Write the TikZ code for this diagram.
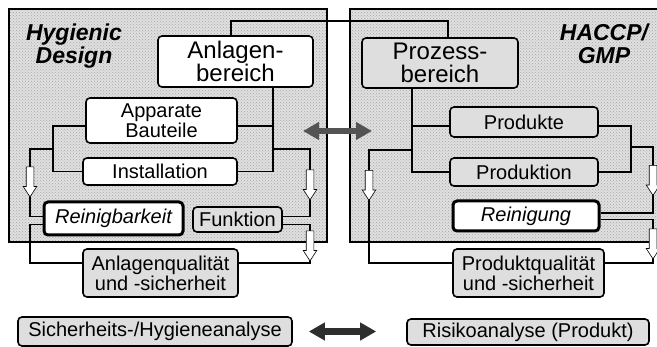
\documentclass[tikz,border=0pt]{standalone}
\usepackage{fontspec}
\setmainfont{Liberation Sans}
\usetikzlibrary{positioning, arrows.meta, shapes.arrows, patterns}

\definecolor{boxgrey}{gray}{0.87}
\definecolor{panelgrey}{gray}{0.88}
\definecolor{arrowgrey}{gray}{0.33}
\definecolor{arrowdark}{gray}{0.18}

\begin{document}
\begin{tikzpicture}[
		x=1pt, y=-1pt,
		every box/.style={draw, rounded corners=4pt, line width=1.6pt, inner sep=1pt, align=center, font=\fontsize{20}{20}\selectfont},
		box plain/.style={fill=white},
		box shaded/.style={fill=boxgrey},
		box head/.style={fill=white, font=\fontsize{24}{23}\selectfont},
		box head shaded/.style={fill=boxgrey, font=\fontsize{24}{23}\selectfont},
		box bold/.style={fill=white, line width=3pt, font=\fontsize{20}{20}\selectfont\itshape},
		link/.style={line width=1.6pt},
		hollow/.style={single arrow, draw, fill=white, line width=0.6pt, inner sep=3.5pt, single arrow head extend=3pt, single arrow tip angle=66, minimum height=30pt, shape border rotate=270},
		panel/.style={draw, line width=1.4pt, preaction={fill=panelgrey}, pattern=crosshatch dots, pattern color=black!35},
		title/.style={font=\fontsize{23}{22.5}\selectfont\bfseries\itshape, align=center, inner sep=0pt},
		duo/.style={line width=6.6pt, {Triangle[length=16pt, width=17pt]}-{Triangle[length=16pt, width=17pt]}}
	]

	\useasboundingbox (0,0) rectangle (657,347);
	\clip (0,0) rectangle (657,347);

	\draw [panel] (9,9) rectangle (327,242);
	\draw [panel] (350,9) rectangle (690,242);

	\node [title, anchor=north] (hygienic) at (74,24) {Hygienic\\Design};
	\node [title, anchor=north] (haccp) at (604,24) {HACCP/\\GMP};

	\foreach \n/\x/\y/\w/\h/\k/\t in {
			anlagen/235.5/61.5/155/51/head/{Anlagen-\\bereich},
			prozess/440/63/156/50/head shaded/{Prozess-\\bereich},
			apparate/161.5/120.5/151/45/plain/{Apparate\\Bauteile},
			install/160/171.5/154/27/plain/{Installation},
			produkte/524/122/148/30/shaded/{Produkte},
			produktion/524/172/148/28/shaded/{Produktion},
			reinigbar/113.5/218.5/139/33/bold/{Reinigbarkeit},
			funktion/237.5/219.5/89/25/shaded/{Funktion},
			reinigung/526/216/146/30/bold/{Reinigung},
			aqual/160.5/273/155/48/shaded/{Anlagenqualität\\und -sicherheit},
			pqual/528.5/273/151/48/shaded/{Produktqualität\\und -sicherheit},
			sicher/155/331.5/274/29/shaded/{Sicherheits-/Hygieneanalyse},
			risiko/528/332/242/26/shaded/{Risikoanalyse (Produkt)}}
		\node [every box/.try, box \k/.try, minimum width=\w, minimum height=\h] (\n) at (\x,\y) {\t};

	\coordinate (top-l) at (231,21);
	\coordinate (top-r) at (448,21);
	\coordinate (mid-l) at (273,126);
	\coordinate (mid-r) at (412,126);
	\coordinate (sp-a) at (273,149);
	\coordinate (sp-b) at (53,149);
	\coordinate (sp-c) at (412,150);
	\coordinate (sp-d) at (631,147);
	\coordinate (out-a) at (30,149);
	\coordinate (out-b) at (310,149);
	\coordinate (out-c) at (369,150);
	\coordinate (out-d) at (653,147);
	\coordinate (low-a) at (30,263);
	\coordinate (low-b) at (310,263);
	\coordinate (low-c) at (369,263);
	\coordinate (low-d) at (653,263);
	\coordinate (row-hi) at (0,216.5);
	\coordinate (row-lo) at (0,224.5);
	\coordinate (row-hr) at (0,213);
	\coordinate (row-lr) at (0,219.5);
	\coordinate (mid-al) at (303,131);
	\coordinate (mid-ar) at (372,131);

	\draw [link] (anlagen.north -| top-l) -- (top-l) -- (top-r) -- (prozess.north -| top-r);

	\draw [link] (anlagen.south -| mid-l) -- (mid-l |- install.east) -- (install.east);
	\draw [link] (apparate.east |- mid-l) -- (mid-l);
	\draw [link] (apparate.west |- mid-l) -- (mid-l -| sp-b) -- (sp-b |- install.west) -- (install.west);
	\draw [link] (sp-b) -- (out-a) -- (out-a |- row-hi) -- (reinigbar.west |- row-hi);
	\draw [link] (reinigbar.west |- row-lo) -- (out-a |- row-lo) -- (low-a) -- (aqual.west |- low-a);
	\draw [link] (sp-a) -- (out-b) -- (out-b |- row-hi) -- (funktion.east |- row-hi);
	\draw [link] (funktion.east |- row-lo) -- (out-b |- row-lo) -- (low-b) -- (aqual.east |- low-b);

	\draw [link] (prozess.south -| mid-r) -- (mid-r |- produktion.west) -- (produktion.west);
	\draw [link] (produkte.west |- mid-r) -- (mid-r);
	\draw [link] (produkte.east |- mid-r) -- (mid-r -| sp-d) -- (sp-d |- produktion.east) -- (produktion.east);
	\draw [link] (sp-c) -- (out-c) -- (low-c) -- (pqual.west |- low-c);
	\draw [link] (sp-d) -- (out-d) -- (out-d |- row-hr) -- (reinigung.east |- row-hr);
	\draw [link] (reinigung.east |- row-lr) -- (out-d |- row-lr) -- (low-d) -- (pqual.east |- low-d);

	\foreach \n/\x/\y in {hl-1/30/179, hl-2/310/182, hl-3/310/243, hr-1/369/182.5, hr-2/653/177.5, hr-3/653/241}
		\node [hollow] (\n) at (\x,\y) {};

	\draw [duo, draw=arrowgrey] (mid-al) -- (mid-ar);
	\draw [duo, draw=arrowdark, shorten <=16pt, shorten >=30pt] (sicher.east) -- (risiko.west |- sicher.east);
\end{tikzpicture}
\end{document}
